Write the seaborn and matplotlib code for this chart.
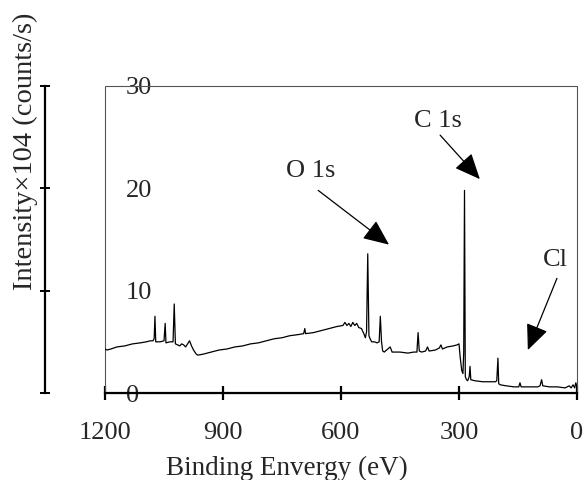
import numpy as np
import pandas as pd
import matplotlib
matplotlib.use("Agg")
import matplotlib.pyplot as plt
import matplotlib.patches as patches
import seaborn as sns

# XPS survey spectrum (binding energy in eV, intensity x10^4 counts/s)
energy = [1200, 1195, 1185, 1170, 1150, 1130, 1110, 1095, 1085, 1078, 1075, 1073, 1071,
          1060, 1050, 1047, 1045, 1035, 1027, 1024, 1021, 1015, 1010, 1005, 1000, 995,
          990, 985, 980, 975, 968, 964, 950, 930, 910, 890, 870, 850, 830, 810, 790,
          770, 750, 730, 710, 695, 692, 690, 670, 650, 630, 610, 595, 590, 585, 580,
          575, 570, 565, 560, 555, 548, 542, 538, 535, 532, 529, 526, 522, 515, 508,
          503, 500, 497, 494, 490, 475, 470, 450, 430, 415, 407, 404, 401, 395, 385,
          380, 376, 360, 350, 346, 342, 330, 315, 305, 300, 297, 293, 290, 288, 286,
          284, 281, 278, 274, 272, 270, 260, 240, 220, 207, 204, 201, 199, 195, 180,
          160, 148, 145, 142, 120, 100, 94, 90, 87, 70, 50, 30, 20, 15, 10, 6, 3, 0]
intensity = [4.3, 4.2, 4.3, 4.5, 4.6, 4.8, 4.9, 5.0, 5.1, 5.1, 5.3, 7.5, 5.0,
             5.0, 5.1, 6.8, 4.9, 5.0, 5.0, 8.7, 4.8, 4.7, 4.6, 4.8, 4.7, 4.5,
             4.8, 5.1, 4.6, 4.2, 3.8, 3.7, 3.8, 4.0, 4.2, 4.3, 4.5, 4.6, 4.8, 4.9, 5.1,
             5.3, 5.4, 5.6, 5.7, 5.8, 6.3, 5.8, 5.9, 6.1, 6.3, 6.5, 6.6, 6.9, 6.6, 6.8,
             6.5, 6.9, 6.6, 6.8, 6.4, 6.3, 5.8, 5.4, 6.0, 13.6, 5.6, 5.3, 5.0, 5.0, 4.9,
             5.0, 7.5, 5.0, 4.1, 4.0, 4.5, 4.0, 4.0, 3.9, 4.0, 4.0, 5.9, 4.1, 4.0, 4.1,
             4.5, 4.1, 4.2, 4.4, 4.7, 4.3, 4.5, 4.6, 4.7, 4.8, 3.5, 2.2, 1.9, 4.0, 19.8,
             1.6, 1.3, 1.2, 1.6, 2.6, 1.3, 1.2, 1.1, 1.1, 1.1, 1.2, 3.4, 0.9, 0.8, 0.7,
             0.6, 0.6, 1.0, 0.6, 0.6, 0.6, 0.7, 1.3, 0.7, 0.6, 0.6, 0.5, 0.7, 0.5, 0.8, 0.5, 1.0, 0.6]

x_ticks = [1200, 900, 600, 300, 0]
y_ticks = [0, 10, 20, 30]

# peak labels: (text, text position, arrow start, arrow tip)
peak_names = ["C 1s", "O 1s", "Cl"]
text_pos = [(353, 26.6), (676, 21.7), (56, 13.0)]
arrow_from = [(348, 25.2), (658, 19.8), (51, 11.2)]
arrow_to = [(247, 20.9), (478, 14.5), (125, 4.2)]

df = pd.DataFrame({"energy": energy, "intensity": intensity})

sns.set_style("ticks")
plt.rcParams["font.family"] = ["Liberation Serif", "DejaVu Serif"]
plt.rcParams["font.size"] = 19

DPI = 100
fig = plt.figure(figsize=(5.87, 4.8), dpi=DPI)
ax = fig.add_axes([105 / 587, 87 / 480, 472 / 587, 307 / 480])

sns.lineplot(data=df, x="energy", y="intensity", ax=ax, color="black",
             linewidth=0.9, estimator=None)

ax.set_xlim(1200, 0)
ax.set_ylim(0, 30)
ax.set_xticks(x_ticks)
ax.set_yticks(y_ticks)

# thin grey frame around the data area
ax.add_patch(patches.Rectangle((0, 0), 1, 1, transform=ax.transAxes, fill=False,
                               edgecolor="#555555", linewidth=0.8, clip_on=False, zorder=1))
ax.spines["top"].set_visible(False)
ax.spines["right"].set_visible(False)
ax.spines["bottom"].set_linewidth(1.6)
ax.spines["bottom"].set_color("black")
ax.spines["bottom"].set_zorder(5)
ax.spines["left"].set_position(("outward", 60 * 72 / DPI))
ax.spines["left"].set_linewidth(1.6)
ax.spines["left"].set_color("black")

ax.tick_params(axis="x", direction="inout", length=9.4, width=1.6, pad=16.5,
               labelsize=19, color="black")
ax.tick_params(axis="y", direction="inout", length=7.5, width=1.4,
               pad=-(81 * 72 / DPI) - 3.75, labelsize=19, color="black")
plt.setp(ax.get_yticklabels(), ha="left")

ax.set_xlabel("Binding Envergy (eV)", fontsize=19.5)
ax.set_ylabel("Intensity×104 (counts/s)", fontsize=20.5)
ax.xaxis.set_label_coords(0.386, -0.205)
ax.yaxis.set_label_coords(-0.142, 0.788)

for name, tp, a0, a1 in zip(peak_names, text_pos, arrow_from, arrow_to):
    ax.text(tp[0], tp[1], name, ha="center", va="center", fontsize=19)
    ax.annotate("", xy=a1, xytext=a0,
                arrowprops=dict(arrowstyle="-|>,head_length=0.8,head_width=0.35",
                                mutation_scale=20, color="black", lw=0.9,
                                shrinkA=0, shrinkB=0))

fig.savefig("out.png", dpi=DPI)
